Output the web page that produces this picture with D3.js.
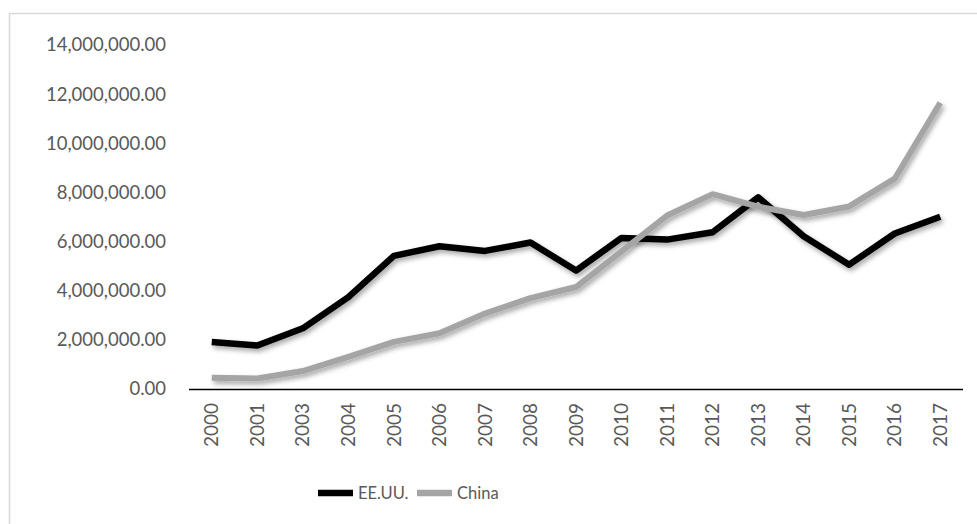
<!DOCTYPE html>
<html>
<head>
<meta charset="utf-8">
<script src="https://cdn.jsdelivr.net/npm/d3@7"></script>
<style>
  body { margin: 0; background: #fff; }
  text { font-family: Lato, "Open Sans", sans-serif; fill: #595959; }
</style>
</head>
<body>
<svg id="chart" width="977" height="524"></svg>
<script>
// years on the x axis (2002 is missing in the source)
var years = ['2000', '2001', '2003', '2004', '2005', '2006', '2007', '2008', '2009',
  '2010', '2011', '2012', '2013', '2014', '2015', '2016', '2017'];

var usaValues = [1910000, 1770000, 2470000, 3740000, 5420000, 5810000, 5620000, 5960000, 4820000,
  6150000, 6080000, 6380000, 7800000, 6220000, 5060000, 6330000, 7010000];

var chinaValues = [460000, 430000, 730000, 1310000, 1920000, 2270000, 3070000, 3700000, 4150000,
  5600000, 7060000, 7930000, 7420000, 7080000, 7430000, 8560000, 11650000];

var yTicks = [0, 2000000, 4000000, 6000000, 8000000, 10000000, 12000000, 14000000];

var seriesNames = ['EE.UU.', 'China'];
var seriesColors = ['#000000', '#a5a5a5'];

var svg = d3.select('#chart');

// outer chart border
svg.append('rect')
  .attr('x', 9.5).attr('y', 13.5)
  .attr('width', 980).attr('height', 530)
  .attr('fill', 'none')
  .attr('stroke', '#d9d9d9')
  .attr('stroke-width', 1.5);

var plotLeft = 189, plotRight = 963, plotTop = 45, plotBottom = 389;

var x = d3.scaleBand().domain(years).range([plotLeft, plotRight]);
var y = d3.scaleLinear().domain([0, 14000000]).range([plotBottom, plotTop]);

var fmt = d3.format(',.2f');

// y axis labels (no line, no gridlines)
svg.append('g')
  .selectAll('text')
  .data(yTicks)
  .enter()
  .append('text')
  .attr('x', 166)
  .attr('y', function (d) { return y(d); })
  .attr('dy', '0.35em')
  .attr('text-anchor', 'end')
  .style('font-size', '18.5px')
  .text(function (d) { return fmt(d); });

// drop shadow like the office chart
var defs = svg.append('defs');
var filter = defs.append('filter').attr('id', 'shadow')
  .attr('x', '-10%').attr('y', '-10%').attr('width', '120%').attr('height', '130%');
filter.append('feDropShadow')
  .attr('dx', 2).attr('dy', 3)
  .attr('stdDeviation', 2.5)
  .attr('flood-color', '#000')
  .attr('flood-opacity', 0.35);

var line = d3.line()
  .x(function (d, i) { return x(years[i]) + x.bandwidth() / 2; })
  .y(function (d) { return y(d); });

[usaValues, chinaValues].forEach(function (vals, i) {
  svg.append('path')
    .datum(vals)
    .attr('d', line)
    .attr('fill', 'none')
    .attr('stroke', seriesColors[i])
    .attr('stroke-width', i === 0 ? 6.5 : 6)
    .attr('stroke-linejoin', 'round')
    .attr('filter', 'url(#shadow)');
});

// x axis line
svg.append('line')
  .attr('x1', plotLeft).attr('x2', plotRight)
  .attr('y1', plotBottom + 0.5).attr('y2', plotBottom + 0.5)
  .attr('stroke', '#000')
  .attr('stroke-width', 1.5);

// rotated year labels
svg.append('g')
  .selectAll('text')
  .data(years)
  .enter()
  .append('text')
  .attr('transform', function (d) {
    return 'translate(' + (x(d) + x.bandwidth() / 2) + ',' + (plotBottom + 14) + ') rotate(-90)';
  })
  .attr('dy', '0.35em')
  .attr('text-anchor', 'end')
  .style('font-size', '19px')
  .text(function (d) { return d; });

// legend
var legend = svg.append('g');
var legendX = [318, 417];
seriesNames.forEach(function (name, i) {
  legend.append('line')
    .attr('x1', legendX[i]).attr('x2', legendX[i] + 35)
    .attr('y1', 493).attr('y2', 493)
    .attr('stroke', seriesColors[i])
    .attr('stroke-width', 6.5);
  legend.append('text')
    .attr('x', legendX[i] + 40)
    .attr('y', 493)
    .attr('dy', '0.35em')
    .style('font-size', '16.5px')
    .text(name);
});
</script>
</body>
</html>
